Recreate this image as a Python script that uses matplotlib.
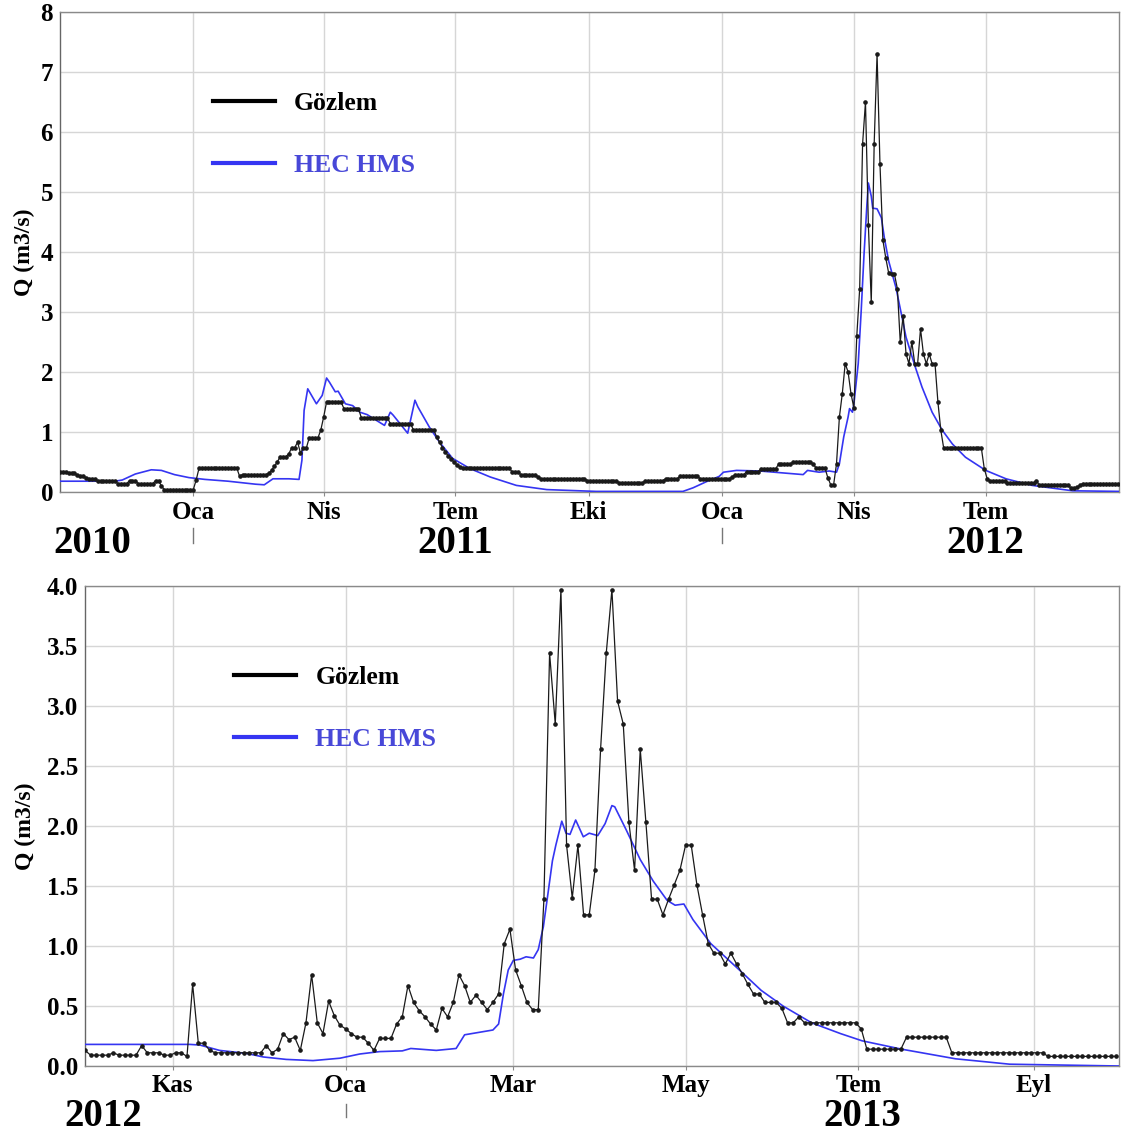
"""
Gözlem ve HEC HMS debi karşılaştırması (iki su yılı + bir su yılı).
"""

import numpy as np
import pandas as pd
import matplotlib
matplotlib.use("Agg")
import matplotlib.pyplot as plt
import matplotlib.dates as mdates
import matplotlib.transforms as mtransforms
from matplotlib.lines import Line2D

plt.rcParams['font.family'] = ['Liberation Serif', 'DejaVu Serif']
plt.rcParams['font.weight'] = 'bold'

AYLAR = {1: 'Oca', 2: 'Şub', 3: 'Mar', 4: 'Nis', 5: 'May', 6: 'Haz',
         7: 'Tem', 8: 'Ağu', 9: 'Eyl', 10: 'Eki', 11: 'Kas', 12: 'Ara'}

BLUE = '#3535f2'
BLUE_TEXT = '#4848d8'

# --- 1. Veriler ---

# Üst panel: 01.10.2010 - 30.09.2012, gözlem her 2 günde bir
start1 = pd.Timestamp('2010-10-01')
end1 = pd.Timestamp('2012-10-01')
obs1_step = 2
obs1_q = [
    0.34, 0.34, 0.34, 0.31, 0.31, 0.31, 0.28, 0.26, 0.26, 0.24, 0.22, 0.22, 0.22, 0.18, 0.18,
    0.18, 0.18, 0.18, 0.18, 0.18, 0.14, 0.14, 0.14, 0.14, 0.19, 0.19, 0.19, 0.14, 0.14, 0.14,
    0.14, 0.14, 0.14, 0.19, 0.19, 0.10, 0.04, 0.04, 0.04, 0.04, 0.04, 0.04, 0.04, 0.04, 0.04,
    0.04, 0.04, 0.20, 0.40, 0.40, 0.40, 0.40, 0.40, 0.40, 0.40, 0.40, 0.40, 0.40, 0.40, 0.40,
    0.40, 0.40, 0.26, 0.29, 0.29, 0.29, 0.29, 0.29, 0.29, 0.29, 0.29, 0.29, 0.31, 0.36, 0.43,
    0.50, 0.59, 0.59, 0.59, 0.64, 0.74, 0.74, 0.83, 0.65, 0.73, 0.73, 0.90, 0.90, 0.90, 0.90,
    1.03, 1.25, 1.50, 1.50, 1.50, 1.50, 1.50, 1.50, 1.39, 1.39, 1.39, 1.39, 1.39, 1.39, 1.24,
    1.24, 1.24, 1.24, 1.24, 1.24, 1.24, 1.24, 1.24, 1.24, 1.14, 1.14, 1.14, 1.14, 1.14, 1.14,
    1.14, 1.14, 1.03, 1.03, 1.03, 1.03, 1.03, 1.03, 1.03, 1.03, 0.92, 0.83, 0.74, 0.67, 0.60,
    0.55, 0.50, 0.45, 0.42, 0.40, 0.40, 0.40, 0.40, 0.40, 0.40, 0.40, 0.40, 0.40, 0.40, 0.40,
    0.40, 0.40, 0.40, 0.40, 0.40, 0.40, 0.34, 0.34, 0.34, 0.29, 0.29, 0.29, 0.29, 0.29, 0.29,
    0.25, 0.22, 0.22, 0.22, 0.22, 0.22, 0.22, 0.22, 0.22, 0.22, 0.22, 0.22, 0.22, 0.22, 0.22,
    0.22, 0.22, 0.19, 0.19, 0.19, 0.19, 0.19, 0.19, 0.19, 0.19, 0.19, 0.19, 0.19, 0.15, 0.15,
    0.15, 0.15, 0.15, 0.15, 0.15, 0.15, 0.15, 0.19, 0.19, 0.19, 0.19, 0.19, 0.19, 0.19, 0.22,
    0.22, 0.22, 0.22, 0.22, 0.26, 0.26, 0.26, 0.26, 0.26, 0.26, 0.26, 0.22, 0.22, 0.22, 0.22,
    0.22, 0.22, 0.22, 0.22, 0.22, 0.22, 0.22, 0.25, 0.29, 0.29, 0.29, 0.29, 0.34, 0.34, 0.34,
    0.34, 0.34, 0.39, 0.39, 0.39, 0.39, 0.39, 0.39, 0.46, 0.46, 0.46, 0.46, 0.46, 0.50, 0.50,
    0.50, 0.50, 0.50, 0.50, 0.50, 0.46, 0.40, 0.40, 0.40, 0.40, 0.24, 0.12, 0.12, 0.47, 1.25,
    1.64, 2.14, 2.00, 1.64, 1.40, 2.60, 3.39, 5.80, 6.50, 4.45, 3.16, 5.80, 7.30, 5.47, 4.20,
    3.90, 3.65, 3.63, 3.63, 3.39, 2.50, 2.94, 2.30, 2.14, 2.50, 2.14, 2.14, 2.72, 2.30, 2.14,
    2.30, 2.14, 2.14, 1.50, 1.03, 0.73, 0.73, 0.73, 0.73, 0.73, 0.73, 0.73, 0.73, 0.73, 0.73,
    0.73, 0.73, 0.73, 0.73, 0.39, 0.22, 0.19, 0.19, 0.19, 0.19, 0.19, 0.19, 0.15, 0.15, 0.15,
    0.15, 0.15, 0.15, 0.15, 0.15, 0.15, 0.15, 0.19, 0.11, 0.11, 0.11, 0.11, 0.11, 0.11, 0.11,
    0.11, 0.11, 0.11, 0.11, 0.06, 0.06, 0.08, 0.11, 0.14, 0.14, 0.14, 0.14, 0.14, 0.14, 0.14,
    0.14, 0.14, 0.14, 0.14, 0.14, 0.14,
]
# HEC HMS (gün, debi)
hms1_day = [0, 38, 43, 52, 63, 70, 79, 89, 100, 116,
            135, 141, 147, 158, 165, 167, 168.5, 171, 177, 181,
            184, 186, 190, 192, 197, 202, 207, 212, 224, 228,
            230, 240, 245, 247, 255, 262, 271, 283, 297, 315,
            336, 370, 430, 437, 446, 455, 458, 467, 483, 513,
            516, 524, 531, 536, 538, 541, 544, 545, 547, 548,
            551, 553, 555, 557, 558, 560, 561, 564, 567, 569,
            572, 577, 581, 584, 590, 595, 602, 609, 616, 625,
            639, 653, 671, 699, 731]
hms1_q = [0.18, 0.18, 0.20, 0.30, 0.37, 0.36, 0.29, 0.24, 0.21, 0.18,
          0.13, 0.12, 0.22, 0.22, 0.21, 0.53, 1.36, 1.72, 1.47, 1.61,
          1.90, 1.83, 1.67, 1.68, 1.47, 1.44, 1.33, 1.29, 1.11, 1.33,
          1.28, 0.98, 1.53, 1.42, 1.08, 0.83, 0.56, 0.39, 0.25, 0.11,
          0.04, 0.01, 0.01, 0.07, 0.17, 0.26, 0.33, 0.36, 0.35, 0.29,
          0.36, 0.33, 0.35, 0.33, 0.47, 0.92, 1.25, 1.39, 1.33, 1.47,
          2.14, 3.00, 3.96, 4.79, 5.15, 4.93, 4.73, 4.72, 4.57, 4.24,
          3.85, 3.41, 2.94, 2.58, 2.11, 1.75, 1.33, 1.03, 0.80, 0.58,
          0.36, 0.22, 0.11, 0.02, 0.01]

# Alt panel: 01.10.2012 - 30.09.2013
start2 = pd.Timestamp('2012-10-01')
end2 = pd.Timestamp('2013-10-01')
obs2_step = 2
obs2_q = [
    0.13, 0.09, 0.09, 0.09, 0.09, 0.11, 0.09, 0.09, 0.09, 0.09, 0.17, 0.11, 0.11, 0.11, 0.09,
    0.09, 0.11, 0.11, 0.08, 0.68, 0.19, 0.19, 0.13, 0.11, 0.11, 0.11, 0.11, 0.11, 0.11, 0.11,
    0.11, 0.11, 0.17, 0.11, 0.14, 0.27, 0.22, 0.24, 0.13, 0.36, 0.76, 0.36, 0.27, 0.54, 0.42,
    0.34, 0.31, 0.27, 0.24, 0.24, 0.19, 0.13, 0.23, 0.23, 0.23, 0.35, 0.41, 0.67, 0.53, 0.46,
    0.41, 0.35, 0.30, 0.48, 0.41, 0.53, 0.76, 0.67, 0.53, 0.59, 0.53, 0.47, 0.53, 0.60, 1.02,
    1.14, 0.80, 0.67, 0.53, 0.47, 0.47, 1.39, 3.44, 2.85, 3.97, 1.84, 1.40, 1.84, 1.26, 1.26,
    1.63, 2.64, 3.44, 3.97, 3.04, 2.85, 2.03, 1.63, 2.64, 2.03, 1.39, 1.39, 1.26, 1.39, 1.51,
    1.63, 1.84, 1.84, 1.51, 1.26, 1.02, 0.94, 0.94, 0.85, 0.94, 0.85, 0.77, 0.68, 0.60, 0.60,
    0.53, 0.53, 0.53, 0.48, 0.36, 0.36, 0.41, 0.36, 0.36, 0.36, 0.36, 0.36, 0.36, 0.36, 0.36,
    0.36, 0.36, 0.31, 0.14, 0.14, 0.14, 0.14, 0.14, 0.14, 0.14, 0.24, 0.24, 0.24, 0.24, 0.24,
    0.24, 0.24, 0.24, 0.11, 0.11, 0.11, 0.11, 0.11, 0.11, 0.11, 0.11, 0.11, 0.11, 0.11, 0.11,
    0.11, 0.11, 0.11, 0.11, 0.11, 0.08, 0.08, 0.08, 0.08, 0.08, 0.08, 0.08, 0.08, 0.08, 0.08,
    0.08, 0.08, 0.08,
]
hms2_day = [0, 37, 40.5, 47.5, 57, 63, 71, 80.5, 90, 97,
            104, 112, 115, 124, 131, 134, 139, 144, 146, 147.7,
            149.4, 151.2, 153.6, 155.7, 158.3, 160, 161.8, 163.5, 165, 166.2,
            168.3, 169.8, 171.2, 173.2, 175.9, 178, 181, 183.6, 186, 187,
            191, 196, 200.6, 205.5, 208.3, 211.4, 214.6, 220.9, 231, 238.7,
            246.4, 256.5, 266.7, 274.3, 288.3, 307.3, 326.4, 365]
hms2_q = [0.18, 0.18, 0.175, 0.13, 0.105, 0.075, 0.055, 0.045, 0.065, 0.10,
          0.12, 0.126, 0.146, 0.13, 0.146, 0.26, 0.28, 0.30, 0.35, 0.60,
          0.80, 0.88, 0.89, 0.91, 0.90, 0.97, 1.16, 1.45, 1.71, 1.84,
          2.04, 1.94, 1.93, 2.05, 1.91, 1.94, 1.92, 2.02, 2.17, 2.16,
          1.97, 1.72, 1.54, 1.38, 1.34, 1.35, 1.22, 1.02, 0.80, 0.63,
          0.50, 0.36, 0.27, 0.21, 0.14, 0.06, 0.015, 0.0]


# --- 2. Çizim ---

def draw_panel(ax, start, end, obs_q, obs_step, hms_day, hms_q,
               yticks, yfmt, tick_months, years, year_marks, year_y, mark_y,
               xpad=3.5):
    obs_dates = start + pd.to_timedelta(np.arange(len(obs_q)) * obs_step, unit='D')
    hms_dates = start + pd.to_timedelta(np.array(hms_day, dtype=float), unit='D')

    ax.plot(hms_dates.to_numpy(), hms_q, color=BLUE, lw=1.2, zorder=3)
    ax.plot(obs_dates.to_numpy(), obs_q, color='#1a1a1a', lw=0.9,
            marker='o', markersize=2.3, zorder=4)

    ax.set_xlim(start, end)
    ax.set_ylim(yticks[0], yticks[-1])

    # ay etiketleri (Türkçe)
    ticks = [d for d in pd.date_range(start, end, freq='MS')
             if d.month in tick_months and start < d < end]
    ax.set_xticks(ticks)
    ax.set_xticklabels([AYLAR[d.month] for d in ticks])
    ax.set_yticks(yticks)
    ax.set_yticklabels([yfmt.format(v) for v in yticks])

    ax.grid(True, color='#d6d6d6', lw=1.0)
    ax.set_axisbelow(True)
    for sp in ax.spines.values():
        sp.set_color('#8a8a8a')
        sp.set_linewidth(1.0)
    ax.spines['left'].set_color('#666666')
    ax.tick_params(axis='x', labelsize=18, length=3, pad=xpad, color='#8a8a8a')
    ax.tick_params(axis='y', labelsize=18, length=0, pad=5)

    # yıl etiketleri ve yıl sınırı işaretleri
    trans = mtransforms.blended_transform_factory(ax.transData, ax.transAxes)
    for text, when, ha, dx in years:
        xn = mdates.date2num(pd.Timestamp(when))
        ax.annotate(text, xy=(xn, year_y), xycoords=trans,
                    xytext=(dx, 0), textcoords='offset points',
                    ha=ha, va='center', fontsize=28, annotation_clip=False)
    for when in year_marks:
        xn = mdates.date2num(pd.Timestamp(when))
        ax.add_line(Line2D([xn, xn], mark_y, transform=trans, color='#777777',
                           lw=1.0, clip_on=False))

    handles = [Line2D([], [], color='black', lw=3),
               Line2D([], [], color=BLUE, lw=3)]
    leg = ax.legend(handles, ['Gözlem', 'HEC HMS'], loc='upper left',
                    bbox_to_anchor=(0.1445, 0.833), frameon=False, fontsize=18.5,
                    handlelength=2.4, handletextpad=0.75, labelspacing=1.5,
                    borderpad=0, borderaxespad=0)
    leg.get_texts()[1].set_color(BLUE_TEXT)


fig = plt.figure(figsize=(11.24, 11.33), dpi=100)
ax1 = fig.add_axes([60 / 1124, 1 - 492 / 1133, 1059 / 1124, 480 / 1133])
ax2 = fig.add_axes([85 / 1124, 1 - 1066 / 1133, 1034 / 1124, 480 / 1133])

draw_panel(ax1, start1, end1, obs1_q, obs1_step, hms1_day, hms1_q,
           yticks=list(range(0, 9)), yfmt='{:d}', tick_months=(1, 4, 7, 10),
           years=[('2010', start1, 'left', -5), ('2011', '2011-07-01', 'center', 0),
                  ('2012', '2012-07-01', 'center', 0)],
           year_marks=['2011-01-01', '2012-01-01'],
           year_y=-0.107, mark_y=[-0.075, -0.106])

draw_panel(ax2, start2, end2, obs2_q, obs2_step, hms2_day, hms2_q,
           yticks=[i * 0.5 for i in range(9)], yfmt='{:.1f}',
           tick_months=(1, 3, 5, 7, 9, 11),
           years=[('2012', start2, 'left', -15), ('2013', '2013-07-01', 'center', 3)],
           year_marks=['2013-01-01'],
           year_y=-0.105, mark_y=[-0.08, -0.107], xpad=2.5)

ax1.set_ylabel('Q (m3/s)', fontsize=17, fontweight='bold')
ax1.yaxis.set_label_coords(-0.024, 0.5)
ax2.set_ylabel('Q (m3/s)', fontsize=17, fontweight='bold')
ax2.yaxis.set_label_coords(-0.047, 0.5)

fig.savefig('out.png', dpi=100)
plt.close(fig)
